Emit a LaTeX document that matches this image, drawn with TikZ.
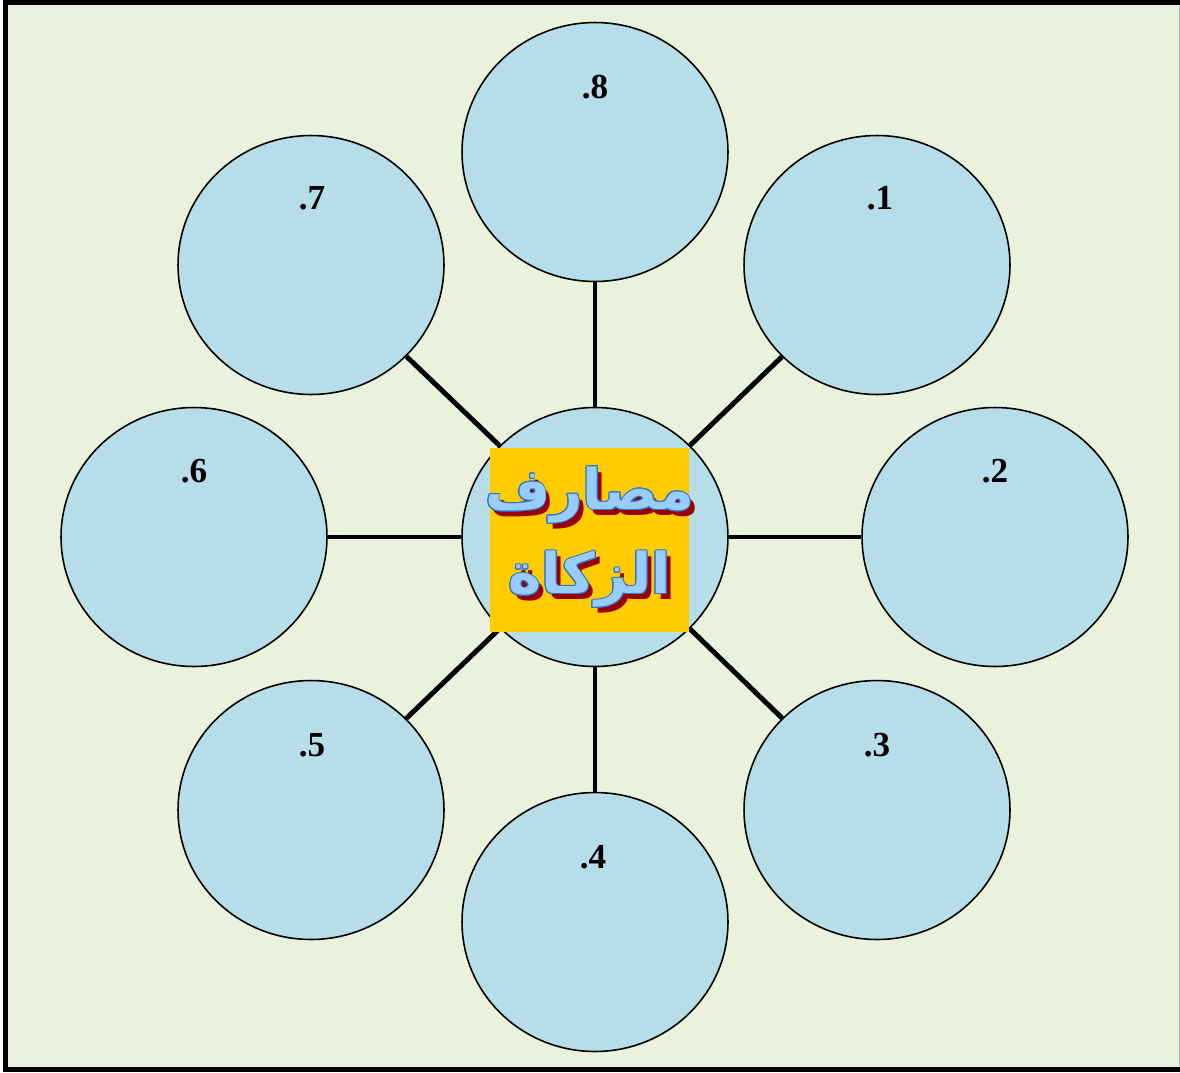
\documentclass[tikz,border=0pt]{standalone}
\usepackage{fontspec}
\usepackage{contour}
\usetikzlibrary{shapes.geometric}
\setmainfont{Liberation Serif}
\newfontfamily\arabicfont[Script=Arabic]{DejaVu Sans}
\TeXXeTstate=1
\definecolor{pagebg}{HTML}{EAF1DD}
\definecolor{ballfill}{HTML}{B7DEE8}
\definecolor{boxfill}{HTML}{FFCC00}
\definecolor{titleblue}{HTML}{99CCFF}
\definecolor{titleline}{HTML}{2E75C8}
\definecolor{titleshade}{HTML}{990000}
\contourlength{0.5pt}
\newcommand{\shadowed}[1]{\leavevmode
  \rlap{\kern2.8pt\lower3.2pt\hbox{\color{titleshade}\beginR#1\endR}}%
  \hbox{\color{titleblue}\contour{titleline}{\beginR#1\endR}}}

\begin{document}
\begin{tikzpicture}[
    x=0.02cm, y=-0.02cm,
    frame/.style={line width=2.8pt},
    ball/.style={draw, ellipse, line width=0.9pt, fill=ballfill,
      minimum width=5.32cm, minimum height=5.18cm, inner sep=0pt},
    numlbl/.style={font=\bfseries\fontsize{20}{24}\selectfont},
    spoke/.style={line width=2.8pt},
    titlebox/.style={fill=boxfill, minimum width=3.98cm, minimum height=3.68cm},
    titletext/.style={align=center, font=\arabicfont\bfseries\fontsize{32}{48}\selectfont}
]
\useasboundingbox (0,0) rectangle (1180,1072);
\fill[pagebg] (5.5,2.5) rectangle (1180,1069.5);
\draw[frame] (1185,2.5) -- (5.5,2.5) -- (5.5,1069.5) -- (1185,1069.5);
\draw[gray!60, line width=0.6pt] (1179.5,5) -- (1179.5,1067);

% outer balls
\node (b8) [ball] at (595,152) {};
\node (b1) [ball] at (877,265) {};
\node (b2) [ball] at (995,537) {};
\node (b3) [ball] at (877,810) {};
\node (b4) [ball] at (595,922) {};
\node (b5) [ball] at (311,810) {};
\node (b6) [ball] at (194,537) {};
\node (b7) [ball] at (311,265) {};

\node (hub) [ball] at (595,537) {};

\draw [spoke] (hub) -- (b8);
\draw [spoke] (hub) -- (b1);
\draw [spoke] (hub) -- (b2);
\draw [spoke] (hub) -- (b3);
\draw [spoke] (hub) -- (b4);
\draw [spoke] (hub) -- (b5);
\draw [spoke] (hub) -- (b6);
\draw [spoke] (hub) -- (b7);

% numbers
\node (n8) [numlbl] at (595,87)  {.8};
\node (n1) [numlbl] at (880,198) {.1};
\node (n2) [numlbl] at (995,471) {.2};
\node (n3) [numlbl] at (877,745) {.3};
\node (n4) [numlbl] at (593,857) {.4};
\node (n5) [numlbl] at (312,745) {.5};
\node (n6) [numlbl] at (194,471) {.6};
\node (n7) [numlbl] at (312,198) {.7};

% title
\node (tbox) [titlebox] at (589.5,540) {};
\node (title) [titletext] at (589.5,540)
  {\shadowed{مصارف}\\ \shadowed{الزكاة}};
\end{tikzpicture}
\end{document}
